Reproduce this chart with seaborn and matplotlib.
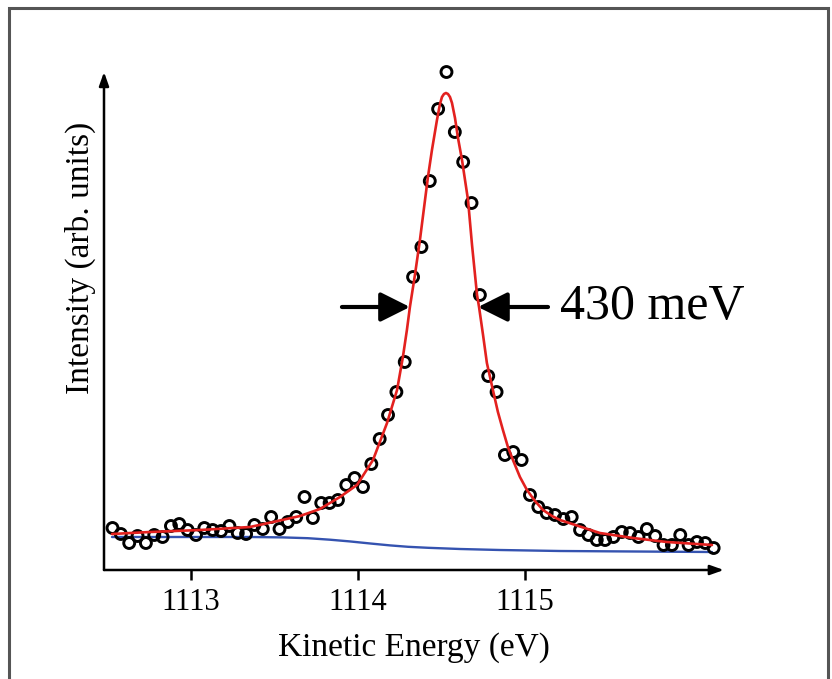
import numpy as np
import pandas as pd
import seaborn as sns
import matplotlib
matplotlib.use("Agg")
import matplotlib.pyplot as plt
from matplotlib.patches import Rectangle

# measured points (kinetic energy in eV, intensity in arb. units)
energy = [1112.53, 1112.58, 1112.63, 1112.68, 1112.73, 1112.78, 1112.83, 1112.88, 1112.93, 1112.98,
          1113.03, 1113.08, 1113.13, 1113.18, 1113.23, 1113.28, 1113.33, 1113.38, 1113.43, 1113.48,
          1113.53, 1113.58, 1113.63, 1113.68, 1113.73, 1113.78, 1113.83, 1113.88, 1113.93, 1113.98,
          1114.03, 1114.08, 1114.13, 1114.18, 1114.23, 1114.28, 1114.33, 1114.38, 1114.43, 1114.48,
          1114.53, 1114.58, 1114.63, 1114.68, 1114.73, 1114.78, 1114.83, 1114.88, 1114.93, 1114.98,
          1115.03, 1115.08, 1115.13, 1115.18, 1115.23, 1115.28, 1115.33, 1115.38, 1115.43, 1115.48,
          1115.53, 1115.58, 1115.63, 1115.68, 1115.73, 1115.78, 1115.83, 1115.88, 1115.93, 1115.98,
          1116.03, 1116.08, 1116.13]
intensity = [42, 36, 27, 34, 27, 35, 33, 44, 46, 40,
             35, 42, 40, 39, 44, 37, 36, 45, 41, 53,
             41, 48, 53, 73, 52, 67, 67, 70, 85, 92,
             83, 106, 131, 155, 178, 208, 293, 323, 389, 461,
             498, 438, 408, 367, 275, 194, 178, 115, 118, 110,
             75, 63, 57, 55, 51, 53, 40, 35, 30, 30,
             33, 38, 37, 33, 41, 34, 25, 25, 35, 25,
             28, 27, 22]

# fitted peak (red)
fit_energy = [1112.527, 1112.754, 1113.054, 1113.353, 1113.491, 1113.653, 1113.772, 1113.892,
              1113.994, 1114.090, 1114.174, 1114.234, 1114.269, 1114.293, 1114.311, 1114.341,
              1114.371, 1114.419, 1114.443, 1114.473, 1114.491, 1114.503, 1114.515, 1114.527,
              1114.539, 1114.551, 1114.563, 1114.581, 1114.599, 1114.623, 1114.641, 1114.659,
              1114.683, 1114.713, 1114.725, 1114.749, 1114.772, 1114.808, 1114.838, 1114.868,
              1114.898, 1114.928, 1114.970, 1115.012, 1115.060, 1115.108, 1115.162, 1115.210,
              1115.449, 1115.647, 1115.850, 1116.120]
fit_intensity = [36, 38, 40, 43, 48, 54, 61, 73,
                 85, 110, 147, 180, 213, 240, 263, 295,
                 330, 393, 420, 450, 466, 473, 476, 477,
                 476, 473, 467, 452, 432, 410, 390, 370,
                 325, 275, 263, 235, 207, 180, 158, 140,
                 123, 110, 93, 80, 69, 60, 54, 50,
                 37, 32, 28, 25]

# background (blue)
bg_energy = [1112.527, 1113.054, 1113.353, 1113.55, 1113.70, 1113.832, 1113.95, 1114.08,
             1114.192, 1114.30, 1114.42, 1114.611, 1114.850, 1115.210, 1115.569, 1116.120]
bg_intensity = [33, 33, 33, 32.6, 31.8, 30.3, 28.6, 26.4,
                24.6, 23.2, 22.2, 21, 20, 19, 18.6, 18]

xticks = [1113, 1114, 1115]
fwhm_label = "430 meV"

sns.set_style("white")
plt.rcParams['font.family'] = ['Liberation Serif', 'DejaVu Serif']
plt.rcParams['text.color'] = 'black'
plt.rcParams['axes.labelcolor'] = 'black'
plt.rcParams['xtick.color'] = 'black'

fig = plt.figure(figsize=(8.32, 6.79), dpi=100)
ax = fig.add_axes([104/832, 109/679, 618/832, 498/679])

sns.lineplot(x=bg_energy, y=bg_intensity, color='#3553b0', lw=1.7, ax=ax, zorder=2)
sns.scatterplot(x=energy, y=intensity, s=62, marker='o', facecolors='none',
                edgecolor='black', linewidth=2.1, ax=ax, zorder=3, clip_on=False)
sns.lineplot(x=fit_energy, y=fit_intensity, color='#e3211f', lw=1.9, ax=ax, zorder=4)

ax.set_xlim(1112.479, 1116.18)
ax.set_ylim(0, 498)
for s in ax.spines.values():
    s.set_visible(False)
ax.set_xticks(xticks)
ax.set_xticklabels([str(t) for t in xticks])
ax.set_yticks([])
ax.tick_params(axis='x', direction='out', length=7, width=1.8, color='black',
               labelcolor='black', labelsize=22, pad=6, bottom=True)

# axis arrows
axkw = dict(arrowstyle='-|>,head_length=0.45,head_width=0.16', lw=1.8, color='black',
            mutation_scale=18, shrinkA=0, shrinkB=0)
ax.annotate('', xy=(1.003, 0), xytext=(0, 0), xycoords='axes fraction', arrowprops=axkw)
ax.annotate('', xy=(0, 1.0), xytext=(0, 0), xycoords='axes fraction', arrowprops=axkw)

ax.set_xlabel('Kinetic Energy (eV)', fontsize=24, color='black')
ax.xaxis.set_label_coords(0.502, -0.125)
ax.set_ylabel('Intensity (arb. units)', fontsize=24, color='black')
ax.yaxis.label.set_va('center')
ax.yaxis.set_label_coords(-0.039, 0.627)

# FWHM arrows
fw = dict(arrowstyle='-|>,head_length=0.5,head_width=0.25', lw=3, color='black',
          mutation_scale=36, shrinkA=0, shrinkB=0)
ax.annotate('', xy=(1114.311, 263), xytext=(1113.904, 263), arrowprops=fw)
ax.annotate('', xy=(1114.719, 263), xytext=(1115.138, 263), arrowprops=fw)
ax.text(1115.21, 263, fwhm_label, fontsize=36, va='center', ha='left', color='black')

# frame around the figure
fig.patches.append(Rectangle((9/832, -0.1), 819/832, 1.1 - 8/679, transform=fig.transFigure,
                             fill=False, ec='#555555', lw=2.2))

fig.savefig('out.png', dpi=100)
